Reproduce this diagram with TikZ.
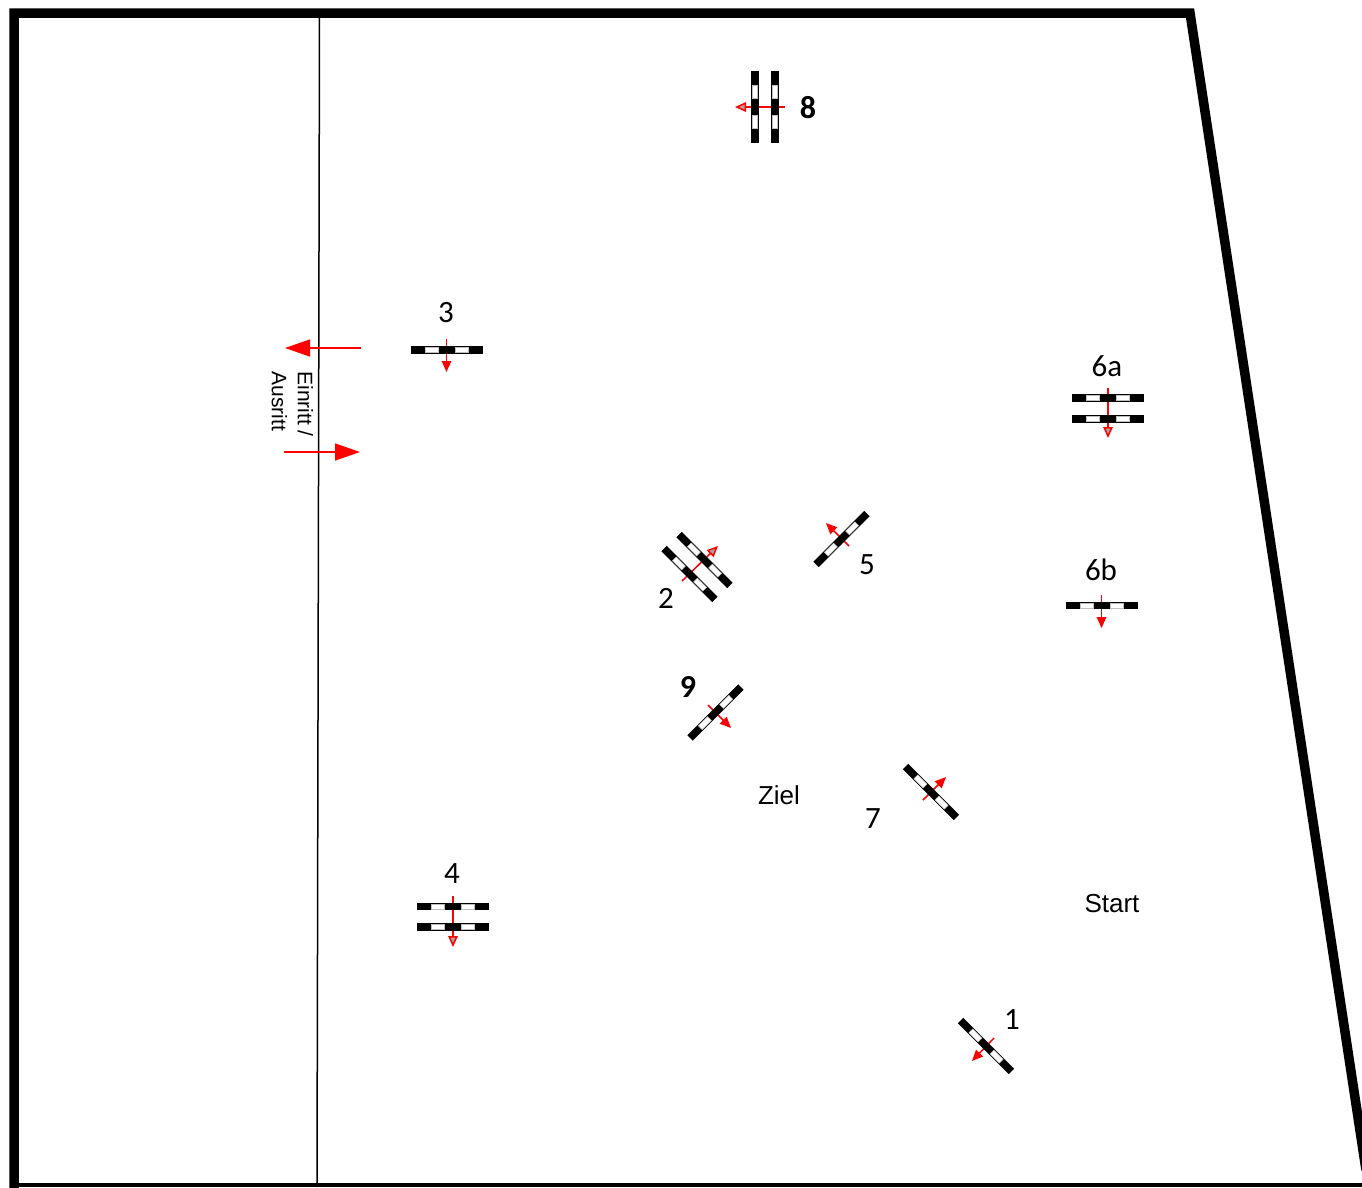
\documentclass[tikz,border=0pt]{standalone}
\usepackage{fontspec}
\setmainfont{Carlito}
\newfontfamily\arialfont{Liberation Sans}
\usetikzlibrary{arrows.meta, calc}
\definecolor{gatered}{HTML}{FF0000}
\tikzset{
  % Gate bars, black with two white fields
  gatebar/.style={
    rectangle, fill=black, inner sep=0pt, minimum width=72pt, minimum height=7.5pt,
    path picture={
      \foreach \fieldx in {-15,15} {
        \fill[white, draw=gray!50, line width=0.5pt] (\fieldx-6.5,-2.7) rectangle (\fieldx+6.5,2.7);
      }
    },
  },
  % Arrows
  gatearrow/.style={-{Triangle[length=11pt, width=9.5pt, fill=gray!70, line width=1.5pt]}, draw=gatered, line width=1.5pt},
  gatearrowplain/.style={-{Triangle[length=11pt, width=9.5pt]}, draw=gatered, line width=1.5pt},
  bigarrow/.style={-{Triangle[length=25pt, width=17pt]}, draw=gatered, line width=1.3pt},
  % Labels
  gatelabel/.style={font=\fontsize{31}{31}\selectfont, inner sep=0pt, yshift=-1pt},
  boldlabel/.style={font=\fontsize{32}{32}\selectfont\bfseries, inner sep=0pt, yshift=-1pt},
  placelabel/.style={font=\fontsize{26}{26}\selectfont\arialfont, inner sep=0pt},
}
\begin{document}
\begin{tikzpicture}[x=1pt, y=-1pt]
  \useasboundingbox (0,0) rectangle (1362,1187);
  \clip (0,0) rectangle (1362,1187);

  % Boundary of the ground
  \draw[line width=9.5pt, miter limit=10] (14,1195) -- (14,13) -- (1190,13) -- (1366,1170);
  \draw[line width=3.5pt] (14,1185) -- (1362,1185);
  \coordinate (linetop) at (319.5,15);
  \coordinate (linebottom) at (317,1187);
  \draw[line width=1.5pt] (linetop) -- (linebottom);

  % Gate 8
  \coordinate (g8from) at (785,107);
  \coordinate (g8to) at (735,107);
  \draw[gatearrow] (g8from) -- (g8to);
  \node[gatebar, rotate=90] (g8a) at (755,107) {};
  \node[gatebar, rotate=90] (g8b) at (775,107) {};
  \node[boldlabel] (l8) at (808,107) {8};

  % Gate 3
  \coordinate (g3from) at (446.5,339);
  \coordinate (g3to) at (446.5,372);
  \draw[gatearrowplain] (g3from) -- (g3to);
  \node[gatebar] (g3) at (446.5,350) {};
  \node[gatelabel] (l3) at (446,312) {3};

  % Gate 6a
  \coordinate (g6afrom) at (1108,388);
  \coordinate (g6ato) at (1108,438);
  \draw[gatearrow] (g6afrom) -- (g6ato);
  \node[gatebar] (g6aa) at (1108,398) {};
  \node[gatebar] (g6ab) at (1108,419) {};
  \node[gatelabel] (l6a) at (1107,365) {6a};

  % Gate 6b
  \coordinate (g6bfrom) at (1101.5,595);
  \coordinate (g6bto) at (1101.5,628);
  \draw[gatearrowplain] (g6bfrom) -- (g6bto);
  \node[gatebar] (g6b) at (1101.5,605.5) {};
  \node[gatelabel] (l6b) at (1101,569) {6b};

  % Gate 5
  \coordinate (g5from) at (849,546);
  \coordinate (g5to) at (826,523);
  \draw[gatearrowplain] (g5from) -- (g5to);
  \node[gatebar, rotate=45] (g5) at (841.5,539) {};
  \node[gatelabel] (l5) at (867,564) {5};

  % Gate 2
  \coordinate (g2from) at (682,581);
  \coordinate (g2to) at (718,546);
  \draw[gatearrow] (g2from) -- (g2to);
  \node[gatebar, rotate=-45] (g2a) at (689.5,574) {};
  \node[gatebar, rotate=-45] (g2b) at (704.5,560) {};
  \node[gatelabel] (l2) at (666,597) {2};

  % Gate 9
  \coordinate (g9from) at (708,705);
  \coordinate (g9to) at (731,728);
  \draw[gatearrowplain] (g9from) -- (g9to);
  \node[gatebar, rotate=45] (g9) at (715.5,712.5) {};
  \node[boldlabel] (l9) at (688,686) {9};

  % Gate 7
  \coordinate (g7from) at (923,800);
  \coordinate (g7to) at (946,777);
  \draw[gatearrowplain] (g7from) -- (g7to);
  \node[gatebar, rotate=-45] (g7) at (931,792) {};
  \node[gatelabel] (l7) at (873,818) {7};

  % Gate 4
  \coordinate (g4from) at (453,896);
  \coordinate (g4to) at (453,947);
  \draw[gatearrow] (g4from) -- (g4to);
  \node[gatebar] (g4a) at (453,906.5) {};
  \node[gatebar] (g4b) at (453,927) {};
  \node[gatelabel] (l4) at (452,873) {4};

  % Gate 1
  \coordinate (g1from) at (994,1038);
  \coordinate (g1to) at (972,1061);
  \draw[gatearrowplain] (g1from) -- (g1to);
  \node[gatebar, rotate=-45] (g1) at (986,1046) {};
  \node[gatelabel] (l1) at (1012,1019) {1};

  % Start and finish
  \node[placelabel] (ziel) at (779,795) {Ziel};
  \node[placelabel] (start) at (1112,904) {Start};

  % Way in and out
  \coordinate (outfrom) at (361,348);
  \coordinate (outto) at (285,348);
  \coordinate (infrom) at (284,452);
  \coordinate (into) at (360,452);
  \draw[bigarrow] (outfrom) -- (outto);
  \draw[bigarrow] (infrom) -- (into);
  \node[font=\fontsize{21}{26}\selectfont\arialfont, inner sep=0pt, rotate=-90, align=left] (gateway) at (292.5,404) {Einritt /\\Ausritt};
\end{tikzpicture}
\end{document}
